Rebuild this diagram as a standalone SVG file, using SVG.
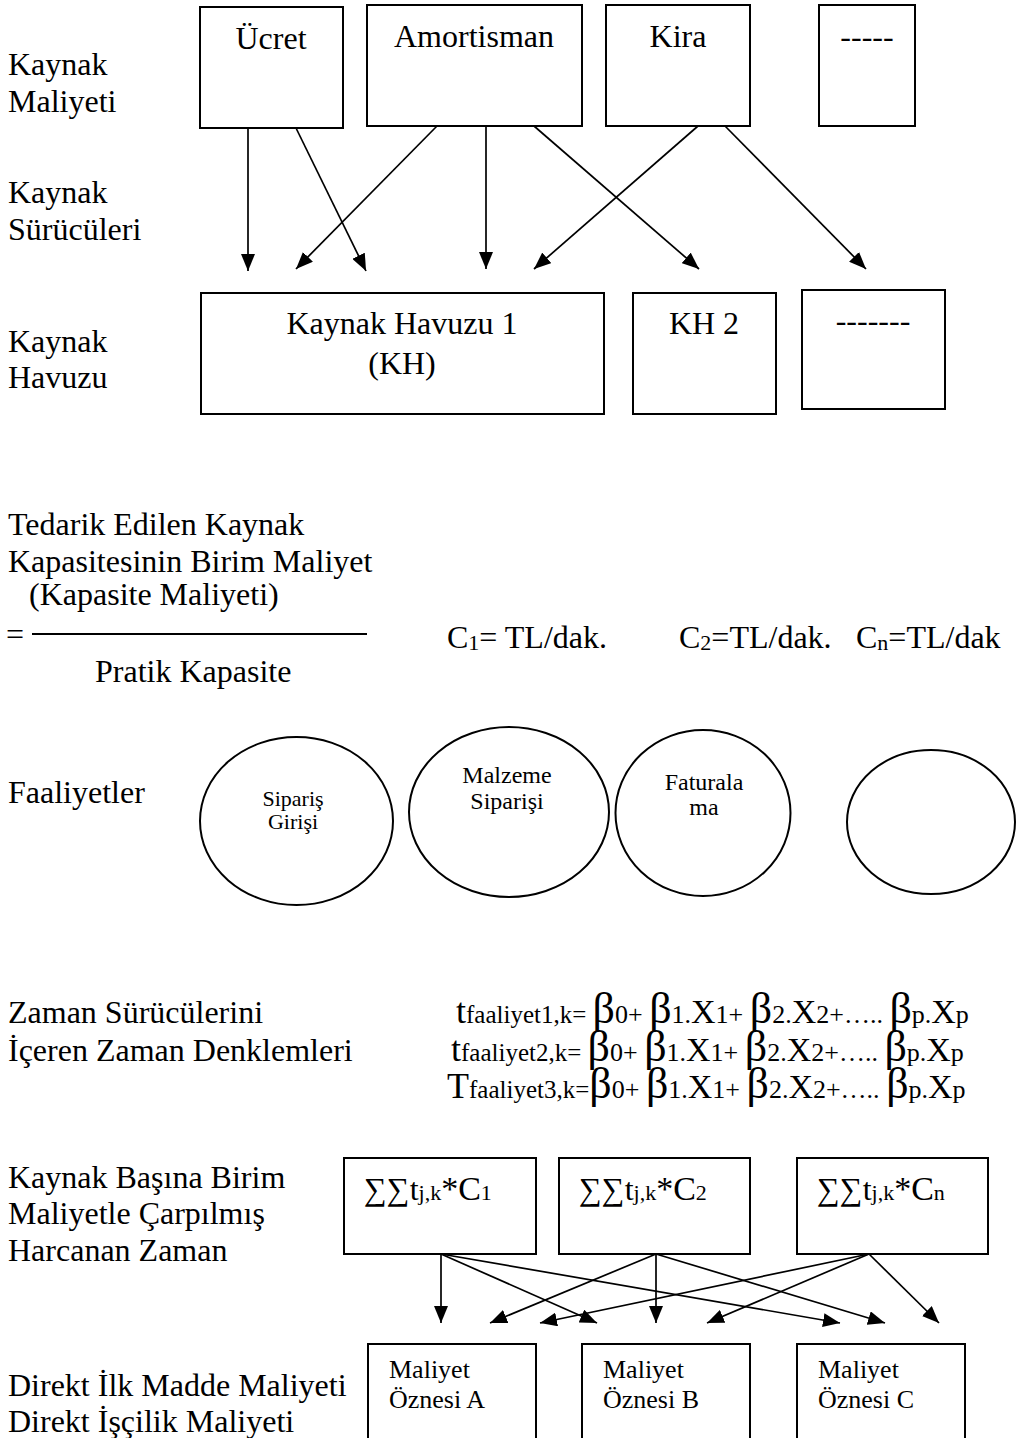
<svg xmlns="http://www.w3.org/2000/svg" width="1017" height="1438" viewBox="0 0 1017 1438">
  <style>
    text { font-family: "Liberation Serif", "Times New Roman", serif; fill: #000; }
    .lbl { font-size: 32px; }
    .box { font-size: 32px; }
    .mid { text-anchor: middle; }
    .act { font-size: 22px; text-anchor: middle; }
    .act2 { font-size: 24px; text-anchor: middle; }
    .obj { font-size: 26px; }
    .sub { font-size: 22px; }
    .frm { fill: #fff; stroke: #000; stroke-width: 2; }
    .edge { fill: none; stroke: #000; stroke-width: 1.7; marker-end: url(#arrow); }
    .tb { font-size: 36px; }
    .ts { font-size: 25px; }
    .b { font-size: 44px; }
    .s { font-size: 26px; }
    .x { font-size: 34px; }
  </style>
  <defs>
    <marker id="arrow" viewBox="0 0 17 14" refX="17" refY="7" markerWidth="17" markerHeight="14" markerUnits="userSpaceOnUse" orient="auto">
      <path d="M0,0 L17,7 L0,14 z" fill="#000"/>
    </marker>
  </defs>
  <rect width="1017" height="1438" fill="#fff"/>

  <!-- row labels -->
  <g id="row-labels" class="lbl">
    <text x="8" y="75">Kaynak</text>
    <text x="8" y="112">Maliyeti</text>
    <text x="8" y="203">Kaynak</text>
    <text x="8" y="240">Sürücüleri</text>
    <text x="8" y="352">Kaynak</text>
    <text x="8" y="388">Havuzu</text>
    <text x="8" y="803">Faaliyetler</text>
    <text x="8" y="1023">Zaman Sürücülerini</text>
    <text x="8" y="1061">İçeren Zaman Denklemleri</text>
    <text x="8" y="1188">Kaynak Başına Birim</text>
    <text x="8" y="1224">Maliyetle Çarpılmış</text>
    <text x="8" y="1261">Harcanan Zaman</text>
    <text x="8" y="1396">Direkt İlk Madde Maliyeti</text>
    <text x="8" y="1432">Direkt İşçilik Maliyeti</text>
  </g>

  <!-- resource costs -->
  <g id="cost-ucret">
    <rect class="frm" x="200" y="7" width="143" height="121"/>
    <text class="box mid" x="271" y="49">Ücret</text>
  </g>
  <g id="cost-amortisman">
    <rect class="frm" x="367" y="5" width="215" height="121"/>
    <text class="box mid" x="474" y="47">Amortisman</text>
  </g>
  <g id="cost-kira">
    <rect class="frm" x="606" y="5" width="144" height="121"/>
    <text class="box mid" x="678" y="47">Kira</text>
  </g>
  <g id="cost-other">
    <rect class="frm" x="819" y="5" width="96" height="121"/>
    <text class="box mid" x="867" y="47">-----</text>
  </g>

  <!-- resource pools -->
  <g id="pool-1">
    <rect class="frm" x="201" y="293" width="403" height="121"/>
    <text class="box mid" x="402" y="334">Kaynak Havuzu 1</text>
    <text class="box mid" x="402" y="374">(KH)</text>
  </g>
  <g id="pool-2">
    <rect class="frm" x="633" y="293" width="143" height="121"/>
    <text class="box mid" x="704" y="334">KH 2</text>
  </g>
  <g id="pool-other">
    <rect class="frm" x="802" y="290" width="143" height="119"/>
    <text class="box mid" x="873" y="331">-------</text>
  </g>

  <!-- capacity cost rate -->
  <g id="capacity-rate" class="lbl">
    <text x="8" y="535">Tedarik Edilen Kaynak</text>
    <text x="8" y="572">Kapasitesinin Birim Maliyet</text>
    <text x="29" y="605">(Kapasite Maliyeti)</text>
    <text x="6" y="645">=</text>
    <line x1="32" y1="634" x2="367" y2="634" stroke="#000" stroke-width="2"/>
    <text x="95" y="682">Pratik Kapasite</text>
    <text x="447" y="648">C<tspan class="sub" dy="2">1</tspan><tspan dy="-2">= TL/dak.</tspan></text>
    <text x="679" y="648">C<tspan class="sub" dy="2">2</tspan><tspan dy="-2">=TL/dak.</tspan></text>
    <text x="856" y="648">C<tspan class="sub" dy="2">n</tspan><tspan dy="-2">=TL/dak</tspan></text>
  </g>

  <!-- activities -->
  <g id="act-siparis-girisi">
    <ellipse class="frm" cx="296.5" cy="821" rx="96.5" ry="84"/>
    <text class="act" x="293" y="806">Sipariş</text>
    <text class="act" x="293" y="829">Girişi</text>
  </g>
  <g id="act-malzeme-siparisi">
    <ellipse class="frm" cx="509" cy="812" rx="100" ry="85"/>
    <text class="act2" x="507" y="783">Malzeme</text>
    <text class="act2" x="507" y="809">Siparişi</text>
  </g>
  <g id="act-faturalama">
    <ellipse class="frm" cx="703" cy="813" rx="87.5" ry="83"/>
    <text class="act2" x="704" y="790">Faturala</text>
    <text class="act2" x="704" y="815">ma</text>
  </g>
  <g id="act-other">
    <ellipse class="frm" cx="931" cy="822" rx="84" ry="72"/>
  </g>

  <!-- time equations -->
  <g id="time-equations">
    <text x="456" y="1023"><tspan class="tb">t</tspan><tspan class="ts">faaliyet1,k= </tspan><tspan class="b">β</tspan><tspan class="s">0+ </tspan><tspan class="b">β</tspan><tspan class="s">1.</tspan><tspan class="x">X</tspan><tspan class="s">1+ </tspan><tspan class="b">β</tspan><tspan class="s">2.</tspan><tspan class="x">X</tspan><tspan class="s">2+….. </tspan><tspan class="b">β</tspan><tspan class="s">p.</tspan><tspan class="x">X</tspan><tspan class="s">p</tspan></text>
    <text x="451" y="1061"><tspan class="tb">t</tspan><tspan class="ts">faaliyet2,k= </tspan><tspan class="b">β</tspan><tspan class="s">0+ </tspan><tspan class="b">β</tspan><tspan class="s">1.</tspan><tspan class="x">X</tspan><tspan class="s">1+ </tspan><tspan class="b">β</tspan><tspan class="s">2.</tspan><tspan class="x">X</tspan><tspan class="s">2+….. </tspan><tspan class="b">β</tspan><tspan class="s">p.</tspan><tspan class="x">X</tspan><tspan class="s">p</tspan></text>
    <text x="447" y="1098"><tspan class="tb">T</tspan><tspan class="ts">faaliyet3,k=</tspan><tspan class="b">β</tspan><tspan class="s">0+ </tspan><tspan class="b">β</tspan><tspan class="s">1.</tspan><tspan class="x">X</tspan><tspan class="s">1+ </tspan><tspan class="b">β</tspan><tspan class="s">2.</tspan><tspan class="x">X</tspan><tspan class="s">2+….. </tspan><tspan class="b">β</tspan><tspan class="s">p.</tspan><tspan class="x">X</tspan><tspan class="s">p</tspan></text>
  </g>

  <!-- cost per resource -->
  <g id="sum-c1">
    <rect class="frm" x="344" y="1158" width="192" height="96"/>
    <text x="364" y="1200"><tspan font-size="32">∑∑t</tspan><tspan font-size="22">j,k</tspan><tspan font-size="34">*C</tspan><tspan font-size="22">1</tspan></text>
  </g>
  <g id="sum-c2">
    <rect class="frm" x="559" y="1158" width="191" height="96"/>
    <text x="579" y="1200"><tspan font-size="32">∑∑t</tspan><tspan font-size="22">j,k</tspan><tspan font-size="34">*C</tspan><tspan font-size="22">2</tspan></text>
  </g>
  <g id="sum-cn">
    <rect class="frm" x="797" y="1158" width="191" height="96"/>
    <text x="817" y="1200"><tspan font-size="32">∑∑t</tspan><tspan font-size="22">j,k</tspan><tspan font-size="34">*C</tspan><tspan font-size="22">n</tspan></text>
  </g>

  <!-- cost objects -->
  <g id="object-a">
    <rect class="frm" x="368" y="1344" width="168" height="110"/>
    <text class="obj" x="389" y="1378">Maliyet</text>
    <text class="obj" x="389" y="1408">Öznesi A</text>
  </g>
  <g id="object-b">
    <rect class="frm" x="582" y="1344" width="168" height="110"/>
    <text class="obj" x="603" y="1378">Maliyet</text>
    <text class="obj" x="603" y="1408">Öznesi B</text>
  </g>
  <g id="object-c">
    <rect class="frm" x="797" y="1344" width="168" height="110"/>
    <text class="obj" x="818" y="1378">Maliyet</text>
    <text class="obj" x="818" y="1408">Öznesi C</text>
  </g>

  <!-- connectors -->
  <g id="connectors">
    <path class="edge" d="M248,128 V271"/>
    <path class="edge" d="M296,128 L366,271"/>
    <path class="edge" d="M437,126 L296,269"/>
    <path class="edge" d="M486,126 V269"/>
    <path class="edge" d="M534,126 L699,269"/>
    <path class="edge" d="M698,126 L534,269"/>
    <path class="edge" d="M725,126 L866,269"/>

    <path class="edge" d="M441,1254 V1323"/>
    <path class="edge" d="M441,1254 L597,1323"/>
    <path class="edge" d="M441,1254 L840,1323"/>
    <path class="edge" d="M656,1254 L490,1323"/>
    <path class="edge" d="M656,1254 V1323"/>
    <path class="edge" d="M656,1254 L885,1323"/>
    <path class="edge" d="M869,1254 L540,1323"/>
    <path class="edge" d="M869,1254 L707,1323"/>
    <path class="edge" d="M869,1254 L939,1323"/>
  </g>
</svg>
